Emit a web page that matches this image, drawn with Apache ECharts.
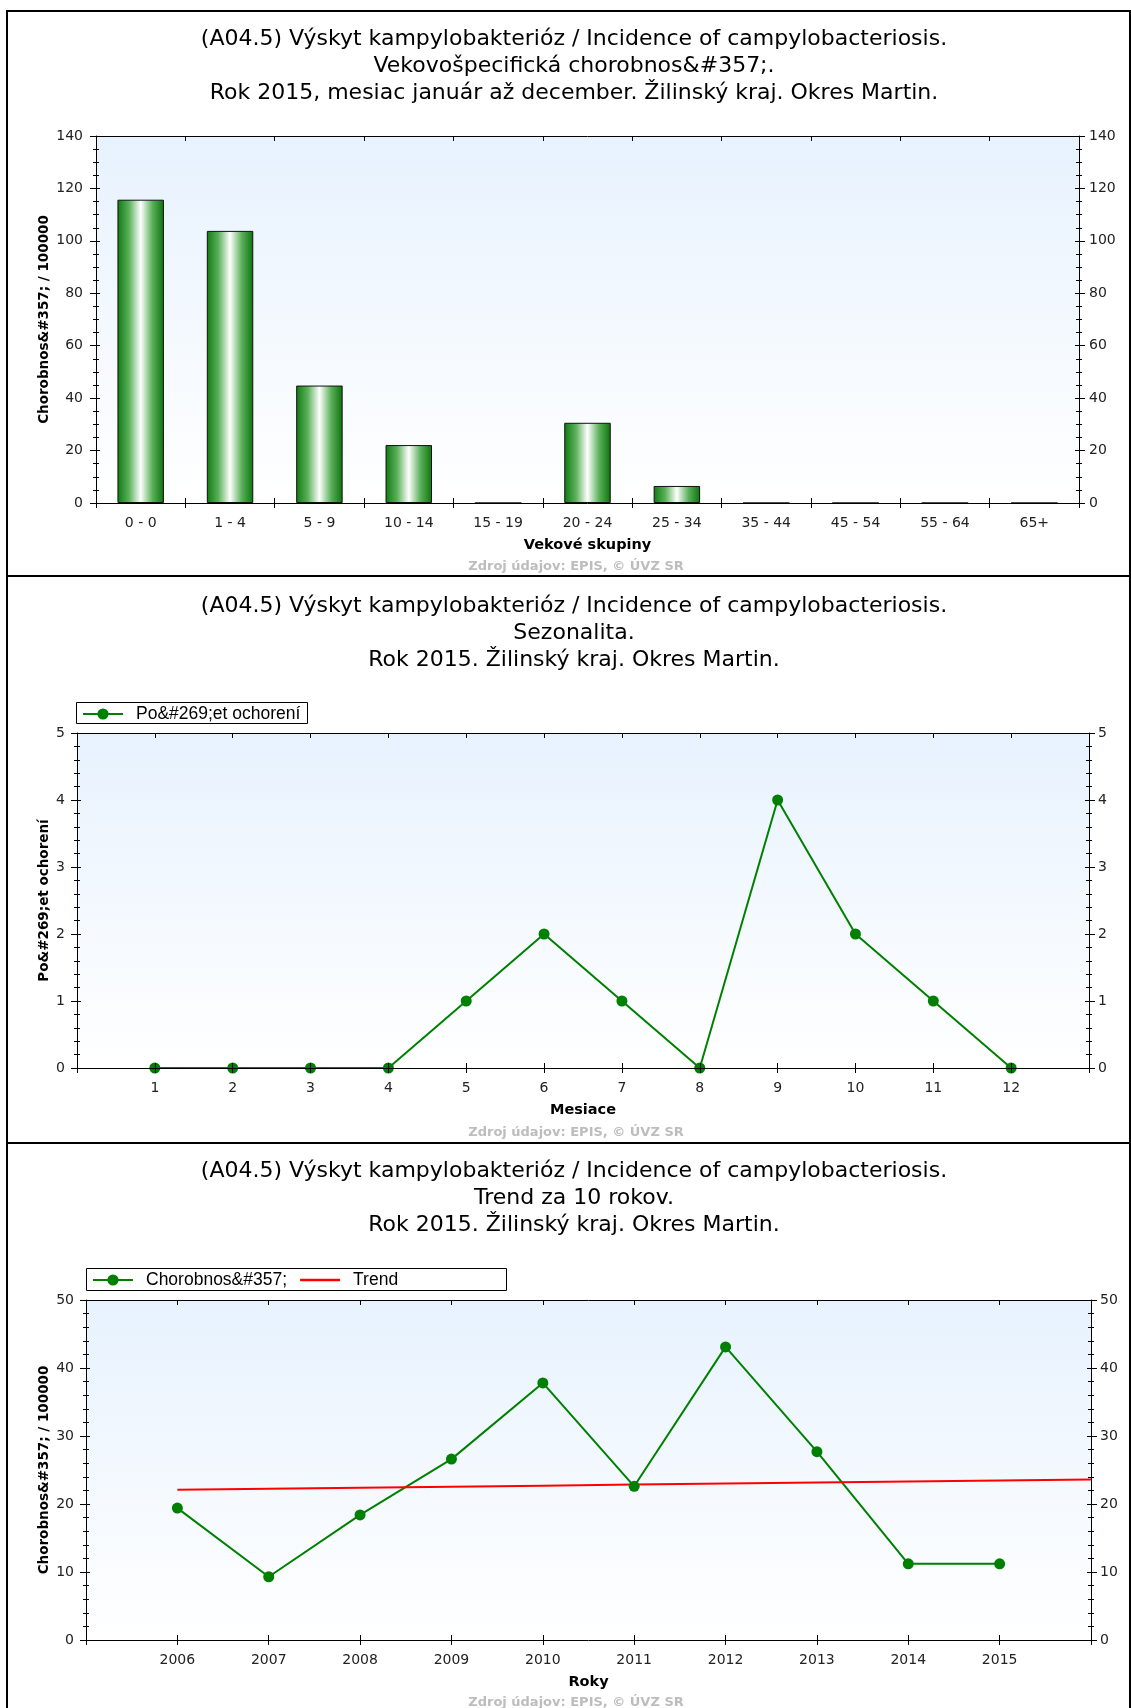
<!DOCTYPE html>
<html>
<head>
<meta charset="utf-8">
<title>Kampylobakteriózy - Okres Martin 2015</title>
<script src="https://cdn.jsdelivr.net/npm/echarts@6/dist/echarts.min.js"></script>
<style>
html, body { margin:0; padding:0; background:#fff; }
#charts { width:1131px; height:1708px; }
</style>
</head>
<body>
<div id="charts"></div>
<script>
// vekove skupiny - chorobnost / 100000
var ageGroups = ['0 - 0','1 - 4','5 - 9','10 - 14','15 - 19','20 - 24','25 - 34','35 - 44','45 - 54','55 - 64','65+'];
var ageRates = [115.7, 103.8, 44.8, 22.1, 0, 30.6, 6.5, 0, 0, 0, 0];

// sezonalita - pocet ochoreni po mesiacoch
var months = [1,2,3,4,5,6,7,8,9,10,11,12];
var monthCases = [0,0,0,0,1,2,1,0,4,2,1,0];

// trend za 10 rokov
var years = [2006,2007,2008,2009,2010,2011,2012,2013,2014,2015];
var yearRates = [19.4, 9.3, 18.4, 26.6, 37.8, 22.6, 43.1, 27.7, 11.2, 11.2];
var trendYears = [2006,2007,2008,2009,2010,2011,2012,2013,2014,2015,2016];
var trendRates = [22.1, 22.25, 22.4, 22.55, 22.7, 22.85, 23.0, 23.15, 23.3, 23.45, 23.6];

var titleLine1 = '(A04.5) Výskyt kampylobakterióz / Incidence of campylobacteriosis.';
var footerText = 'Zdroj údajov: EPIS, © ÚVZ SR';

var FONT = 'DejaVu Sans';
var xAxes = [];
var yAxes = [];

function addXAxes(gi, base, name, labelFmt){
	var idx = xAxes.length;
	var label = {show:true, interval:0, margin:13, fontFamily:FONT, fontSize:14, color:'#222'};
	if(labelFmt){
		label.formatter = labelFmt;
	}
	//spodna os s popisom
	xAxes.push(Object.assign({}, base, {
		gridIndex:gi, position:'bottom', z:5,
		name:name, nameLocation:'middle', nameGap:35, nameMoveOverlap:false,
		nameTextStyle:{fontFamily:FONT, fontWeight:'bold', fontSize:14.5, color:'#000'},
		axisLine:{onZero:false, lineStyle:{color:'#000', width:1}},
		axisTick:{show:true, inside:false, length:5, interval:0, lineStyle:{color:'#000'}},
		axisLabel:label,
		splitLine:{show:false}
	}));
	//tiky dovnutra
	xAxes.push(Object.assign({}, base, {
		gridIndex:gi, position:'bottom', z:5,
		axisLine:{show:false, onZero:false},
		axisTick:{show:true, inside:true, length:5, interval:0, lineStyle:{color:'#000'}},
		axisLabel:{show:false},
		splitLine:{show:false}
	}));
	//horna os
	xAxes.push(Object.assign({}, base, {
		gridIndex:gi, position:'top', z:5,
		axisLine:{show:true, onZero:false, lineStyle:{color:'#000'}},
		axisTick:{show:true, inside:true, length:5, interval:0, lineStyle:{color:'#000'}},
		axisLabel:{show:false},
		splitLine:{show:false}
	}));
	return idx;
}

function addYAxes(gi, max, interval, minorSplit, name, nameGap, marginL, marginR){
	var base = {type:'value', min:0, max:max, interval:interval, gridIndex:gi, z:5, splitLine:{show:false}};
	var idx = yAxes.length;
	var tickStyle = {color:'#000', width:1};
	var sides = ['left','right'];
	for(var i=0;i<sides.length;i++){
		var main = {
			position:sides[i],
			axisLine:{show:true, onZero:false, lineStyle:{color:'#000', width:1}},
			axisTick:{show:true, inside:false, length:6, lineStyle:tickStyle},
			minorTick:{show:true, splitNumber:minorSplit, length:3, lineStyle:tickStyle},
			axisLabel:{show:true, margin:(i==0 ? marginL : marginR), fontFamily:FONT, fontSize:14, color:'#222'}
		};
		if(i==0){
			main.name = name;
			main.nameLocation = 'middle';
			main.nameGap = nameGap;
			main.nameMoveOverlap = false;
			main.nameTextStyle = {fontFamily:FONT, fontWeight:'bold', fontSize:13.5, color:'#000'};
		}
		yAxes.push(Object.assign({}, base, main));
		yAxes.push(Object.assign({}, base, {
			position:sides[i],
			axisLine:{show:false, onZero:false},
			axisTick:{show:true, inside:true, length:4, lineStyle:tickStyle},
			minorTick:{show:true, splitNumber:minorSplit, length:3, lineStyle:tickStyle},
			axisLabel:{show:false}
		}));
	}
	return idx;
}

function plotBg(){
	return {type:'linear', x:0, y:0, x2:0, y2:1,
		colorStops:[{offset:0, color:'#e7f2fe'},{offset:1, color:'#ffffff'}]};
}

var charts = echarts.init(document.getElementById('charts'), null, {renderer:'canvas'});

var grids = [
	{left:96, top:136, width:983, height:367, show:true, borderWidth:0, backgroundColor:plotBg()},
	{left:77, top:733, width:1012, height:335, show:true, borderWidth:0, backgroundColor:plotBg()},
	{left:86, top:1300, width:1005, height:340, show:true, borderWidth:0, backgroundColor:plotBg()}
];

var hideEnds = function(min, max){
	return function(v){
		if(v <= min || v >= max){
			return '';
		}
		return String(v);
	};
};

var x0 = addXAxes(0, {type:'category', data:ageGroups, boundaryGap:true}, 'Vekové skupiny');
var y0 = addYAxes(0, 140, 20, 4, 'Chorobnos&#357; / 100000', 45, 13, 10);

var x1 = addXAxes(1, {type:'value', min:0, max:13, interval:1}, 'Mesiace', hideEnds(0, 13));
var y1 = addYAxes(1, 5, 1, 5, 'Po&#269;et ochorení', 26, 12, 9);

var x2 = addXAxes(2, {type:'value', min:2005, max:2016, interval:1}, 'Roky', hideEnds(2005, 2016));
var y2 = addYAxes(2, 50, 10, 5, 'Chorobnos&#357; / 100000', 35, 12, 9);

var monthData = [];
for(var i=0;i<months.length;i++){
	monthData.push([months[i], monthCases[i]]);
}
var yearData = [];
for(var i=0;i<years.length;i++){
	yearData.push([years[i], yearRates[i]]);
}
var trendData = [];
for(var i=0;i<trendYears.length;i++){
	trendData.push([trendYears[i], trendRates[i]]);
}

var barColor = {type:'linear', x:0, y:0, x2:1, y2:0, colorStops:[
	{offset:0, color:'#0f7a0f'},
	{offset:0.25, color:'#5cb05c'},
	{offset:0.5, color:'#ffffff'},
	{offset:0.75, color:'#5cb05c'},
	{offset:1, color:'#0c720c'}
]};

var green = '#008000';

// ramy panelov, titulky, zdroj
var graphics = [];
var panels = [[7, 11, 1123, 565], [7, 576, 1123, 567], [7, 1143, 1123, 580]];
for(var i=0;i<panels.length;i++){
	graphics.push({type:'rect', z:10, silent:true,
		shape:{x:panels[i][0], y:panels[i][1], width:panels[i][2], height:panels[i][3]},
		style:{fill:null, stroke:'#000', lineWidth:2}});
}
var titles = [
	[titleLine1 + '\nVekovošpecifická chorobnos&#357;.\nRok 2015, mesiac január až december. Žilinský kraj. Okres Martin.', 26],
	[titleLine1 + '\nSezonalita.\nRok 2015. Žilinský kraj. Okres Martin.', 593],
	[titleLine1 + '\nTrend za 10 rokov.\nRok 2015. Žilinský kraj. Okres Martin.', 1158]
];
for(var i=0;i<titles.length;i++){
	graphics.push({type:'text', z:6, x:574, y:titles[i][1],
		style:{text:titles[i][0], fill:'#000', font:'22px "DejaVu Sans"', lineHeight:27,
			align:'center', verticalAlign:'top'}});
}
var footerY = [567, 1133, 1703];
for(var i=0;i<footerY.length;i++){
	graphics.push({type:'text', z:6, x:576, y:footerY[i],
		style:{text:footerText, fill:'#bdbdbd', font:'bold 13px "DejaVu Sans"',
			align:'center', verticalAlign:'middle'}});
}
// ramy legend
graphics.push({type:'rect', z:1, shape:{x:76.5, y:702.5, width:231, height:21},
	style:{fill:'#fff', stroke:'#000', lineWidth:1}});
graphics.push({type:'rect', z:1, shape:{x:86.5, y:1268.5, width:420, height:22},
	style:{fill:'#fff', stroke:'#000', lineWidth:1}});
// zakrytie spodnej polovice bodov na osi (ako v povodnom grafe)
graphics.push({type:'rect', z:3, silent:true, shape:{x:78, y:1069, width:1010, height:7},
	style:{fill:'#fff'}});

var option = {
	animation:false,
	backgroundColor:'#fff',
	grid:grids,
	xAxis:xAxes,
	yAxis:yAxes,
	legend:[{
		data:['Po&#269;et ochorení'],
		left:78, top:702, z:6,
		padding:[3,4,3,4],
		itemWidth:40, itemHeight:14,
		textStyle:{fontFamily:'Liberation Sans', fontSize:17.5, color:'#000', padding:[0,0,0,8]}
	},{
		data:['Chorobnos&#357;', {name:'Trend', icon:'path://M0,0 L40,0 L40,2.6 L0,2.6 Z'}],
		left:88, top:1268, z:6,
		padding:[3,4,3,4],
		itemGap:13,
		itemWidth:40, itemHeight:14,
		textStyle:{fontFamily:'Liberation Sans', fontSize:17.5, color:'#000', padding:[0,0,0,8]}
	}],
	graphic:{elements:graphics},
	series:[{
		name:'Chorobnos&#357; vek',
		type:'bar',
		xAxisIndex:x0,
		yAxisIndex:y0,
		barWidth:'52%',
		itemStyle:{color:barColor, borderColor:'#111', borderWidth:1},
		data:ageRates
	},{
		name:'Po&#269;et ochorení',
		type:'line',
		xAxisIndex:x1,
		yAxisIndex:y1,
		symbol:'circle',
		symbolSize:11,
		lineStyle:{color:green, width:2},
		itemStyle:{color:green},
		data:monthData
	},{
		name:'Chorobnos&#357;',
		type:'line',
		xAxisIndex:x2,
		yAxisIndex:y2,
		symbol:'circle',
		symbolSize:11,
		lineStyle:{color:green, width:2},
		itemStyle:{color:green},
		data:yearData
	},{
		name:'Trend',
		type:'line',
		xAxisIndex:x2,
		yAxisIndex:y2,
		symbol:'none',
		lineStyle:{color:'#ff0000', width:2},
		itemStyle:{color:'#ff0000'},
		data:trendData
	}]
};
charts.setOption(option);
</script>
</body>
</html>
